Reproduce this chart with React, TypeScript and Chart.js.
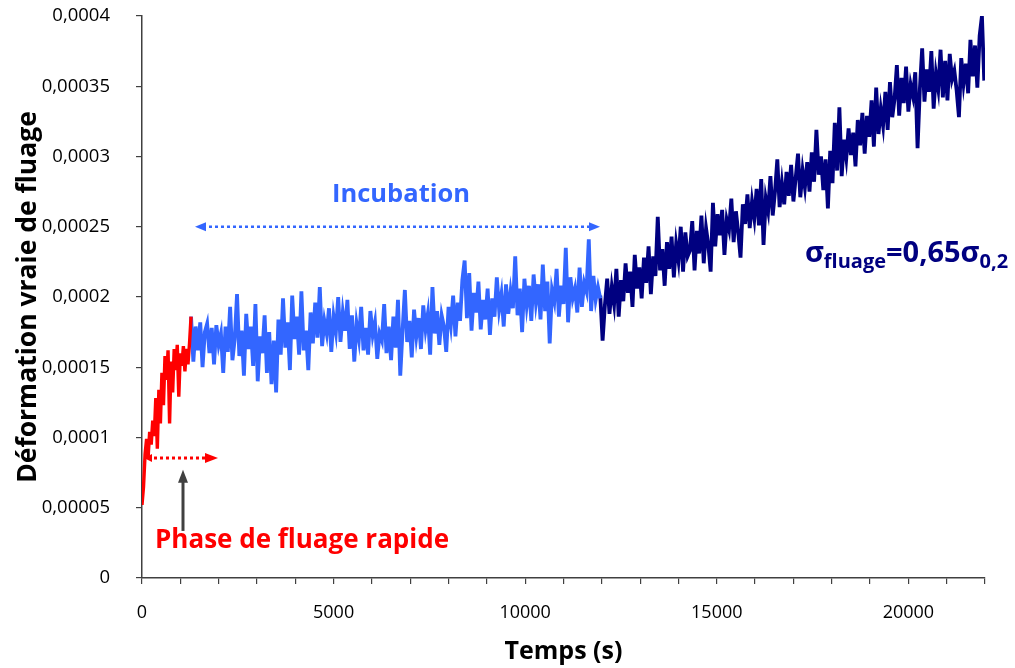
import React, { useEffect, useRef } from "react";
import { Chart, registerables } from "chart.js";

Chart.register(...registerables);

// Values are in units of 1e-5 (strain); the axis labels show the real values.
const RED_START = 0;
const RED_STEP = 40;
const redValues = [
  5.2, 6.5, 8.8, 9.9, 8.6, 10.4, 9.5, 11.2, 10.1, 12.8, 9.2, 13.4, 11.0, 14.6, 12.3, 15.8, 14.1,
  16.2, 11.0, 15.4, 13.2, 16.3, 14.8, 16.6, 12.9, 16.0, 15.1, 16.5, 14.7, 16.3, 15.2, 16.7, 18.6,
];

const BLUE_START = 1280;
const BLUE_STEP = 60;
const blueValues = [
  18.6, 15.4, 17.9, 16.2, 18.2, 15.0, 17.5, 18.1, 16.0, 17.8,
  15.2, 18.0, 16.6, 17.4, 14.6, 17.9, 16.1, 19.3, 15.5, 17.0,
  20.2, 15.8, 17.6, 14.4, 18.8, 16.3, 17.9, 15.1, 19.5, 14.0,
  17.2, 16.0, 18.7, 14.6, 17.5, 13.8, 16.9, 13.2, 18.4, 15.9,
  19.9, 16.4, 18.2, 14.8, 20.1, 17.0, 18.6, 15.9, 20.4, 16.2,
  17.6, 14.8, 18.9, 16.7, 19.6, 17.1, 20.7, 16.5, 18.3, 17.4,
  19.2, 16.1, 18.6, 17.5, 20.0, 16.8, 18.9, 17.6, 19.8, 16.3,
  18.7, 15.4, 18.1, 17.0, 19.3, 16.2, 17.8, 15.9, 19.0, 17.3,
  18.2, 15.6, 17.4, 16.9, 19.5, 16.0, 17.9, 15.5, 18.6, 16.4,
  19.8, 14.4, 17.6, 20.5, 16.8, 18.3, 15.7, 19.1, 17.2, 18.5,
  16.3, 19.4, 17.7, 18.8, 15.9, 20.7, 17.4, 19.0, 16.6, 18.7,
  17.9, 16.1, 19.3, 18.0, 20.1, 17.2, 19.6, 18.3, 21.2, 22.6,
  18.5, 21.7, 17.6, 20.3, 18.9, 21.1, 17.7, 19.8, 18.4, 20.6,
  17.3, 19.9, 18.6, 21.4, 19.1, 20.2, 17.9, 20.9, 18.8, 20.4,
  19.2, 22.9, 18.7, 20.6, 17.5, 21.3, 19.4, 20.8, 18.3, 21.6,
  19.6, 20.9, 18.4, 22.3, 19.0, 21.1, 16.7, 20.5, 19.7, 22.0,
  18.6, 20.8, 19.5, 23.5, 18.2, 21.4, 19.9, 20.6, 18.9, 22.1,
  19.3, 21.0, 20.4, 24.1, 19.0, 21.5, 19.8, 20.7, 19.9,
];

const NAVY_START = 11960;
const NAVY_STEP = 60;
const navyValues = [
  20.1, 16.9, 19.4, 21.3, 18.8, 20.7, 19.5, 22.0, 18.6, 21.2,
  19.7, 22.4, 20.3, 21.8, 19.3, 23.0, 20.6, 22.1, 19.9, 22.8,
  21.0, 23.6, 20.2, 22.9, 21.5, 25.7, 21.9, 23.4, 20.8, 23.9,
  22.0, 24.3, 21.4, 23.8, 22.6, 25.0, 21.8, 24.6, 22.9, 23.3,
  25.4, 21.9, 24.7, 23.1, 25.8, 22.4, 24.9, 23.7, 21.8, 26.7,
  23.6, 25.9, 24.4, 26.2, 23.0, 25.5, 24.8, 27.0, 23.9, 26.1,
  24.6, 22.8, 26.6, 25.2, 27.3, 24.9, 26.8, 25.6, 27.7, 25.1,
  28.4, 23.7, 27.0, 26.1, 28.6, 25.8, 27.5, 29.8, 26.4, 28.1,
  26.6, 28.9, 27.2, 29.4, 26.8, 28.5, 30.2, 27.1, 29.0, 27.8,
  29.6, 27.5, 30.3, 28.2, 31.9, 28.7, 30.0, 27.6, 29.8, 26.3,
  30.4, 28.1, 32.4, 29.0, 33.5, 28.6, 31.2, 29.9, 32.0, 30.1,
  31.7, 29.3, 32.6, 30.8, 33.1, 30.2, 32.9, 31.4, 34.0, 30.7,
  34.9, 31.6, 33.4, 32.2, 34.6, 31.9, 35.3, 32.8, 34.1, 36.5,
  32.9, 35.6, 33.8, 36.4, 33.2, 35.1, 34.3, 36.0, 30.6, 34.8,
  37.7, 33.9, 36.2, 34.6, 37.5, 33.4, 35.9, 34.8, 37.6, 34.2,
  36.8, 34.0, 37.3, 35.5, 36.1, 34.7, 32.8, 37.0, 35.2, 36.6,
  34.5, 38.3, 35.7, 37.9, 34.9, 38.6, 40.0, 35.4,
];

const yTickLabels = [
  "0", "0,00005", "0,0001", "0,00015", "0,0002", "0,00025", "0,0003", "0,00035", "0,0004",
];
const xLabelValues = [0, 5000, 10000, 15000, 20000];
const xLabelTexts = ["0", "5000", "10000", "15000", "20000"];

const X_TITLE = "Temps (s)";
const Y_TITLE = "Déformation vraie de fluage";

const RED = "#ff0000";
const BLUE = "#3366ff";
const NAVY = "#000080";
const AXIS = "#404040";
const FONT = "'Open Sans', 'DejaVu Sans', sans-serif";

// annotation anchors (data coordinates)
const NOTES = {
  incubArrow: { x0: 1383, x1: 11952, y: 25 },
  incubText: { x: 6760, y: 27.3 },
  rapidArrow: { x0: 0, x1: 1983, y: 8.54 },
  pointer: { x: 1070, y0: 3.35, y1: 7.7 },
  rapidText: { x: 340, y: 2.65 },
  sigmaText: { x: 17300, y: 22.5 },
};

function toPoints(start: number, step: number, values: number[]) {
  return values.map((v, i) => ({ x: start + i * step, y: v }));
}

function arrowHead(ctx: CanvasRenderingContext2D, tipX: number, tipY: number, dx: number, dy: number, len: number, half: number) {
  const nx = -dy, ny = dx;
  ctx.beginPath();
  ctx.moveTo(tipX, tipY);
  ctx.lineTo(tipX - dx * len + nx * half, tipY - dy * len + ny * half);
  ctx.lineTo(tipX - dx * len - nx * half, tipY - dy * len - ny * half);
  ctx.closePath();
  ctx.fill();
}

const notesPlugin = {
  id: "notes",
  afterDatasetsDraw(chart: any) {
    const { ctx } = chart;
    const xs = chart.scales.x;
    const ys = chart.scales.y;
    const px = (v: number) => xs.getPixelForValue(v);
    const py = (v: number) => ys.getPixelForValue(v);
    ctx.save();

    // Incubation double arrow (dotted)
    {
      const a = NOTES.incubArrow;
      const x0 = px(a.x0), x1 = px(a.x1), y = py(a.y);
      ctx.strokeStyle = BLUE;
      ctx.fillStyle = BLUE;
      ctx.lineWidth = 2.5;
      ctx.setLineDash([3, 3]);
      ctx.beginPath();
      ctx.moveTo(x0 + 8, y);
      ctx.lineTo(x1 - 8, y);
      ctx.stroke();
      ctx.setLineDash([]);
      arrowHead(ctx, x0, y, -1, 0, 11, 4.5);
      arrowHead(ctx, x1, y, 1, 0, 11, 4.5);
    }

    // Rapid phase arrow (dotted red)
    {
      const a = NOTES.rapidArrow;
      const x0 = px(a.x0), x1 = px(a.x1), y = py(a.y);
      ctx.strokeStyle = RED;
      ctx.fillStyle = RED;
      ctx.lineWidth = 3;
      ctx.setLineDash([3, 3]);
      ctx.beginPath();
      ctx.moveTo(x0 + 6, y);
      ctx.lineTo(x1 - 10, y);
      ctx.stroke();
      ctx.setLineDash([]);
      arrowHead(ctx, x0 + 2, y, -1, 0, 8, 4);
      arrowHead(ctx, x1, y, 1, 0, 13, 5);
    }

    // Pointer arrow (grey, solid)
    {
      const a = NOTES.pointer;
      const x = px(a.x), y0 = py(a.y0), y1 = py(a.y1);
      ctx.strokeStyle = "#404040";
      ctx.fillStyle = "#404040";
      ctx.lineWidth = 3;
      ctx.beginPath();
      ctx.moveTo(x, y0);
      ctx.lineTo(x, y1 + 10);
      ctx.stroke();
      arrowHead(ctx, x, y1, 0, -1, 13, 5);
    }

    // Texts
    ctx.textBaseline = "middle";
    ctx.font = `bold 25.5px ${FONT}`;
    ctx.fillStyle = BLUE;
    ctx.textAlign = "center";
    ctx.fillText("Incubation", px(NOTES.incubText.x), py(NOTES.incubText.y));

    ctx.font = `bold 26px ${FONT}`;
    ctx.fillStyle = RED;
    ctx.textAlign = "left";
    ctx.fillText("Phase de fluage rapide", px(NOTES.rapidText.x), py(NOTES.rapidText.y));

    // sigma label
    {
      let x = px(NOTES.sigmaText.x);
      const base = py(NOTES.sigmaText.y);
      ctx.fillStyle = NAVY;
      ctx.textBaseline = "alphabetic";
      ctx.textAlign = "left";
      const big = `bold 29px ${FONT}`;
      const small = `bold 20px ${FONT}`;
      const parts: [string, string, number][] = [
        ["σ", big, 0],
        ["fluage", small, 6],
        ["=0,65", big, 0],
        ["σ", big, 0],
        ["0,2", small, 6],
      ];
      for (const [t, f, dy] of parts) {
        ctx.font = f;
        ctx.fillText(t, x, base + dy);
        x += ctx.measureText(t).width;
      }
    }
    ctx.restore();
  },
};

export default function App() {
  const ref = useRef<HTMLCanvasElement | null>(null);
  useEffect(() => {
    if (!ref.current) return;
    const chart = new Chart(ref.current, {
      type: "line",
      data: {
        datasets: [
          {
            label: "navy",
            data: toPoints(NAVY_START, NAVY_STEP, navyValues),
            borderColor: NAVY,
            borderWidth: 3.8,
            pointRadius: 0,
            tension: 0,
            order: 3,
          },
          {
            label: "incubation",
            data: toPoints(BLUE_START, BLUE_STEP, blueValues),
            borderColor: BLUE,
            borderWidth: 3.8,
            pointRadius: 0,
            tension: 0,
            order: 2,
          },
          {
            label: "rapide",
            data: toPoints(RED_START, RED_STEP, redValues),
            borderColor: RED,
            borderWidth: 3.4,
            pointRadius: 0,
            tension: 0,
            order: 1,
          },
        ],
      },
      options: {
        animation: false,
        responsive: false,
        devicePixelRatio: 1,
        layout: { padding: { top: 16, right: 30, left: 0, bottom: 0 } },
        plugins: { legend: { display: false }, tooltip: { enabled: false } },
        scales: {
          x: {
            type: "linear",
            min: 0,
            max: 22000,
            afterFit: (s: any) => {
              s.height = 90;
              s.paddingLeft = 0;
              s.paddingRight = 0;
            },
            border: { display: true, color: AXIS, width: 1.5 },
            grid: { display: true, drawOnChartArea: false, drawTicks: true, tickLength: 6, color: AXIS, lineWidth: 1.2 },
            ticks: {
              stepSize: 1000,
              autoSkip: false,
              maxRotation: 0,
              padding: 18,
              color: "#000",
              font: { family: FONT, size: 18 },
              callback: (v: any) => {
                const i = xLabelValues.indexOf(Number(v));
                return i >= 0 ? xLabelTexts[i] : "";
              },
            },
            title: {
              display: true,
              text: X_TITLE,
              color: "#000",
              font: { family: FONT, size: 25, weight: "bold" },
              padding: { top: 0, bottom: 1 },
            },
          },
          y: {
            type: "linear",
            min: 0,
            max: 40,
            afterFit: (s: any) => {
              s.width = 142;
              s.paddingTop = 0;
              s.paddingBottom = 0;
            },
            border: { display: true, color: AXIS, width: 1.5 },
            grid: { display: true, drawOnChartArea: false, drawTicks: true, tickLength: 6, color: AXIS, lineWidth: 1.2 },
            ticks: {
              stepSize: 5,
              autoSkip: false,
              padding: 26,
              color: "#000",
              font: { family: FONT, size: 18.5 },
              callback: (v: any) => yTickLabels[Math.round(Number(v) / 5)] ?? "",
            },
            title: {
              display: true,
              text: Y_TITLE,
              color: "#000",
              font: { family: FONT, size: 26.5, weight: "bold" },
              padding: { top: 13, bottom: 0 },
            },
          },
        },
      },
      plugins: [notesPlugin],
    } as any);
    return () => chart.destroy();
  }, []);
  return (
    <div style={{ position: "fixed", left: 0, top: 0, width: 1015, height: 668, background: "#fff" }}>
      <canvas ref={ref} width={1015} height={668} style={{ display: "block" }} />
    </div>
  );
}
